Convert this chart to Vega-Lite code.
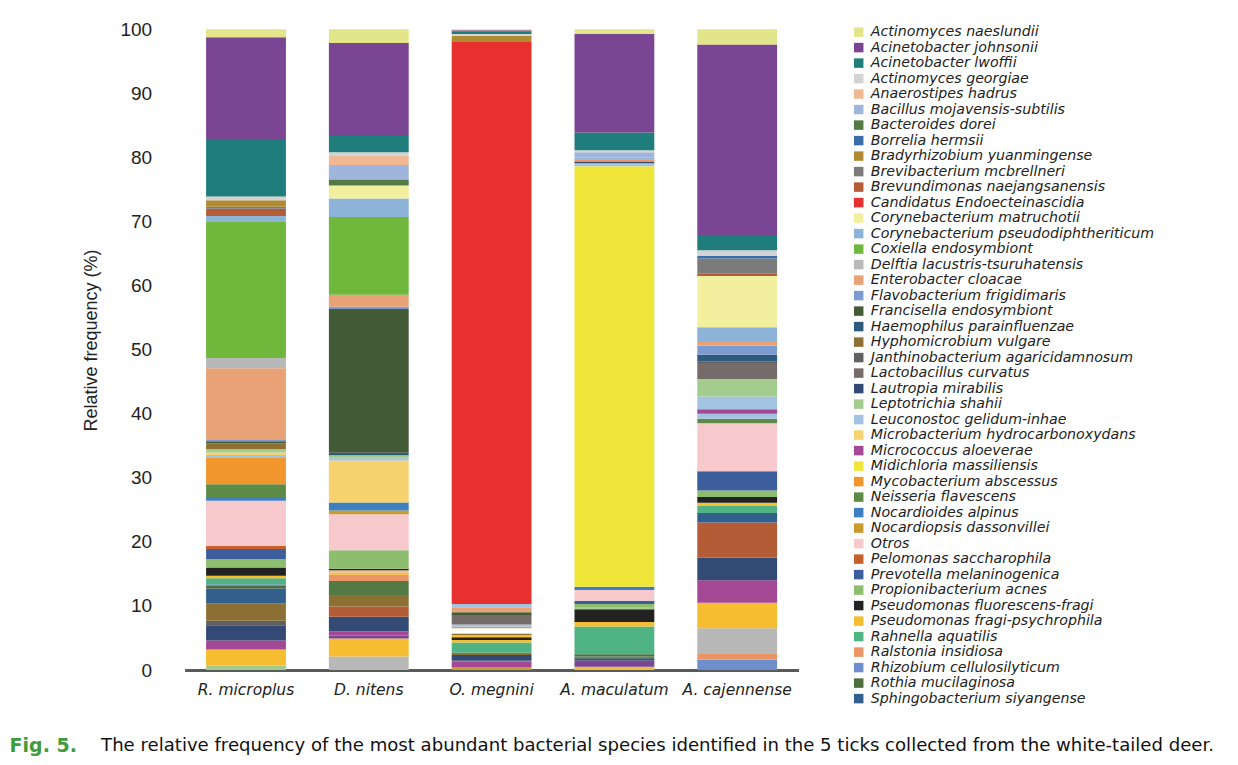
{
  "$schema": "https://vega.github.io/schema/vega-lite/v6.json",
  "autosize": {"type": "none"},
  "padding": {"left": 184.6, "top": 10, "right": 439.4, "bottom": 95},
  "width": 614,
  "height": 660,
  "background": "white",
  "config": {"view": {"stroke": null}, "font": "Liberation Sans"},
  "title": {"text": "Fig. 5.", "orient": "top", "anchor": "start", "frame": "group", "offset": 0, "baseline": "middle", "dx": -175, "dy": 755, "color": "#3f9c3c", "fontSize": 19, "fontWeight": "bold", "font": "DejaVu Sans"},
  "datasets": {
    "bars": [
      {"tick": "R. microplus", "sp": "Leptotrichia shahii", "v": 0.7},
      {"tick": "R. microplus", "sp": "Pseudomonas fragi-psychrophila", "v": 2.5},
      {"tick": "R. microplus", "sp": "Micrococcus aloeverae", "v": 1.4},
      {"tick": "R. microplus", "sp": "Lautropia mirabilis", "v": 2.4},
      {"tick": "R. microplus", "sp": "Janthinobacterium agaricidamnosum", "v": 0.7},
      {"tick": "R. microplus", "sp": "Hyphomicrobium vulgare", "v": 2.7},
      {"tick": "R. microplus", "sp": "Sphingobacterium siyangense", "v": 2.3},
      {"tick": "R. microplus", "sp": "Rothia mucilaginosa", "v": 0.4},
      {"tick": "R. microplus", "sp": "Rhizobium cellulosilyticum", "v": 0.3},
      {"tick": "R. microplus", "sp": "Rahnella aquatilis", "v": 0.9},
      {"tick": "R. microplus", "sp": "Pseudomonas fragi-psychrophila", "v": 0.4},
      {"tick": "R. microplus", "sp": "Pseudomonas fluorescens-fragi", "v": 1.3},
      {"tick": "R. microplus", "sp": "Propionibacterium acnes", "v": 1.3},
      {"tick": "R. microplus", "sp": "Prevotella melaninogenica", "v": 1.6},
      {"tick": "R. microplus", "sp": "Pelomonas saccharophila", "v": 0.5},
      {"tick": "R. microplus", "sp": "Otros", "v": 7.0},
      {"tick": "R. microplus", "sp": "Nocardioides alpinus", "v": 0.6},
      {"tick": "R. microplus", "sp": "Neisseria flavescens", "v": 2.0},
      {"tick": "R. microplus", "sp": "Mycobacterium abscessus", "v": 4.2},
      {"tick": "R. microplus", "sp": "Leuconostoc gelidum-inhae", "v": 0.35},
      {"tick": "R. microplus", "sp": "Microbacterium hydrocarbonoxydans", "v": 0.4},
      {"tick": "R. microplus", "sp": "Leptotrichia shahii", "v": 0.5},
      {"tick": "R. microplus", "sp": "Hyphomicrobium vulgare", "v": 0.9},
      {"tick": "R. microplus", "sp": "Francisella endosymbiont", "v": 0.35},
      {"tick": "R. microplus", "sp": "Flavobacterium frigidimaris", "v": 0.3},
      {"tick": "R. microplus", "sp": "Enterobacter cloacae", "v": 11.1},
      {"tick": "R. microplus", "sp": "Delftia lacustris-tsuruhatensis", "v": 1.6},
      {"tick": "R. microplus", "sp": "Coxiella endosymbiont", "v": 21.35},
      {"tick": "R. microplus", "sp": "Corynebacterium pseudodiphtheriticum", "v": 0.8},
      {"tick": "R. microplus", "sp": "Brevundimonas naejangsanensis", "v": 1.15},
      {"tick": "R. microplus", "sp": "Brevibacterium mcbrellneri", "v": 0.3},
      {"tick": "R. microplus", "sp": "Bradyrhizobium yuanmingense", "v": 1.0},
      {"tick": "R. microplus", "sp": "Actinomyces georgiae", "v": 0.6},
      {"tick": "R. microplus", "sp": "Acinetobacter lwoffii", "v": 8.8},
      {"tick": "R. microplus", "sp": "Acinetobacter johnsonii", "v": 16.05},
      {"tick": "R. microplus", "sp": "Actinomyces naeslundii", "v": 1.25},

      {"tick": "D. nitens", "sp": "Delftia lacustris-tsuruhatensis", "v": 2.1},
      {"tick": "D. nitens", "sp": "Pseudomonas fragi-psychrophila", "v": 2.8},
      {"tick": "D. nitens", "sp": "Acinetobacter johnsonii", "v": 0.5},
      {"tick": "D. nitens", "sp": "Micrococcus aloeverae", "v": 0.6},
      {"tick": "D. nitens", "sp": "Lautropia mirabilis", "v": 2.3},
      {"tick": "D. nitens", "sp": "Brevundimonas naejangsanensis", "v": 1.6},
      {"tick": "D. nitens", "sp": "Hyphomicrobium vulgare", "v": 1.8},
      {"tick": "D. nitens", "sp": "Bacteroides dorei", "v": 2.2},
      {"tick": "D. nitens", "sp": "Ralstonia insidiosa", "v": 0.95},
      {"tick": "D. nitens", "sp": "Pseudomonas fragi-psychrophila", "v": 0.35},
      {"tick": "D. nitens", "sp": "Anaerostipes hadrus", "v": 0.35},
      {"tick": "D. nitens", "sp": "Pseudomonas fluorescens-fragi", "v": 0.25},
      {"tick": "D. nitens", "sp": "Propionibacterium acnes", "v": 2.9},
      {"tick": "D. nitens", "sp": "Otros", "v": 5.6},
      {"tick": "D. nitens", "sp": "Nocardiopsis dassonvillei", "v": 0.6},
      {"tick": "D. nitens", "sp": "Nocardioides alpinus", "v": 1.25},
      {"tick": "D. nitens", "sp": "Microbacterium hydrocarbonoxydans", "v": 6.55},
      {"tick": "D. nitens", "sp": "Leuconostoc gelidum-inhae", "v": 0.35},
      {"tick": "D. nitens", "sp": "Leptotrichia shahii", "v": 0.45},
      {"tick": "D. nitens", "sp": "Haemophilus parainfluenzae", "v": 0.4},
      {"tick": "D. nitens", "sp": "Francisella endosymbiont", "v": 22.45},
      {"tick": "D. nitens", "sp": "Flavobacterium frigidimaris", "v": 0.35},
      {"tick": "D. nitens", "sp": "Enterobacter cloacae", "v": 1.85},
      {"tick": "D. nitens", "sp": "Coxiella endosymbiont", "v": 12.15},
      {"tick": "D. nitens", "sp": "Corynebacterium pseudodiphtheriticum", "v": 2.9},
      {"tick": "D. nitens", "sp": "Corynebacterium matruchotii", "v": 2.0},
      {"tick": "D. nitens", "sp": "Bacteroides dorei", "v": 0.9},
      {"tick": "D. nitens", "sp": "Brevibacterium mcbrellneri", "v": 0.1},
      {"tick": "D. nitens", "sp": "Bacillus mojavensis-subtilis", "v": 2.2},
      {"tick": "D. nitens", "sp": "Anaerostipes hadrus", "v": 1.4},
      {"tick": "D. nitens", "sp": "Actinomyces georgiae", "v": 0.6},
      {"tick": "D. nitens", "sp": "Acinetobacter lwoffii", "v": 2.7},
      {"tick": "D. nitens", "sp": "Acinetobacter johnsonii", "v": 14.35},
      {"tick": "D. nitens", "sp": "Actinomyces naeslundii", "v": 2.15},

      {"tick": "O. megnini", "sp": "Nocardiopsis dassonvillei", "v": 0.4},
      {"tick": "O. megnini", "sp": "Micrococcus aloeverae", "v": 0.9},
      {"tick": "O. megnini", "sp": "Hyphomicrobium vulgare", "v": 0.15},
      {"tick": "O. megnini", "sp": "Lautropia mirabilis", "v": 0.9},
      {"tick": "O. megnini", "sp": "Hyphomicrobium vulgare", "v": 0.35},
      {"tick": "O. megnini", "sp": "Rahnella aquatilis", "v": 1.6},
      {"tick": "O. megnini", "sp": "Pseudomonas fragi-psychrophila", "v": 0.4},
      {"tick": "O. megnini", "sp": "Pseudomonas fluorescens-fragi", "v": 0.4},
      {"tick": "O. megnini", "sp": "Pseudomonas fragi-psychrophila", "v": 0.35},
      {"tick": "O. megnini", "sp": "Hyphomicrobium vulgare", "v": 0.25},
      {"tick": "O. megnini", "sp": "gap", "v": 0.8},
      {"tick": "O. megnini", "sp": "Mycobacterium abscessus", "v": 0.25},
      {"tick": "O. megnini", "sp": "Leuconostoc gelidum-inhae", "v": 0.35},
      {"tick": "O. megnini", "sp": "Lactobacillus curvatus", "v": 1.5},
      {"tick": "O. megnini", "sp": "Francisella endosymbiont", "v": 0.4},
      {"tick": "O. megnini", "sp": "Enterobacter cloacae", "v": 0.8},
      {"tick": "O. megnini", "sp": "Leuconostoc gelidum-inhae", "v": 0.5},
      {"tick": "O. megnini", "sp": "Candidatus Endoecteinascidia", "v": 87.7},
      {"tick": "O. megnini", "sp": "Bradyrhizobium yuanmingense", "v": 1.0},
      {"tick": "O. megnini", "sp": "Actinomyces georgiae", "v": 0.25},
      {"tick": "O. megnini", "sp": "Acinetobacter lwoffii", "v": 0.35},
      {"tick": "O. megnini", "sp": "Acinetobacter johnsonii", "v": 0.25},
      {"tick": "O. megnini", "sp": "Actinomyces naeslundii", "v": 0.15},

      {"tick": "A. maculatum", "sp": "Pseudomonas fragi-psychrophila", "v": 0.5},
      {"tick": "A. maculatum", "sp": "Acinetobacter johnsonii", "v": 1.0},
      {"tick": "A. maculatum", "sp": "Lautropia mirabilis", "v": 0.35},
      {"tick": "A. maculatum", "sp": "Neisseria flavescens", "v": 0.25},
      {"tick": "A. maculatum", "sp": "Rothia mucilaginosa", "v": 0.35},
      {"tick": "A. maculatum", "sp": "Rahnella aquatilis", "v": 4.35},
      {"tick": "A. maculatum", "sp": "Pseudomonas fragi-psychrophila", "v": 0.7},
      {"tick": "A. maculatum", "sp": "Pseudomonas fluorescens-fragi", "v": 2.0},
      {"tick": "A. maculatum", "sp": "Leptotrichia shahii", "v": 0.35},
      {"tick": "A. maculatum", "sp": "Propionibacterium acnes", "v": 0.45},
      {"tick": "A. maculatum", "sp": "Prevotella melaninogenica", "v": 0.5},
      {"tick": "A. maculatum", "sp": "Otros", "v": 1.7},
      {"tick": "A. maculatum", "sp": "Nocardioides alpinus", "v": 0.5},
      {"tick": "A. maculatum", "sp": "Midichloria massiliensis", "v": 65.6},
      {"tick": "A. maculatum", "sp": "Leuconostoc gelidum-inhae", "v": 0.5},
      {"tick": "A. maculatum", "sp": "Lautropia mirabilis", "v": 0.25},
      {"tick": "A. maculatum", "sp": "Ralstonia insidiosa", "v": 0.35},
      {"tick": "A. maculatum", "sp": "Corynebacterium pseudodiphtheriticum", "v": 0.3},
      {"tick": "A. maculatum", "sp": "Bacillus mojavensis-subtilis", "v": 0.8},
      {"tick": "A. maculatum", "sp": "Actinomyces georgiae", "v": 0.3},
      {"tick": "A. maculatum", "sp": "Acinetobacter lwoffii", "v": 2.8},
      {"tick": "A. maculatum", "sp": "Acinetobacter johnsonii", "v": 15.4},
      {"tick": "A. maculatum", "sp": "Actinomyces naeslundii", "v": 0.7},

      {"tick": "A. cajennense", "sp": "Rhizobium cellulosilyticum", "v": 1.6},
      {"tick": "A. cajennense", "sp": "Ralstonia insidiosa", "v": 1.0},
      {"tick": "A. cajennense", "sp": "Delftia lacustris-tsuruhatensis", "v": 3.9},
      {"tick": "A. cajennense", "sp": "Pseudomonas fragi-psychrophila", "v": 4.0},
      {"tick": "A. cajennense", "sp": "Micrococcus aloeverae", "v": 3.5},
      {"tick": "A. cajennense", "sp": "Lautropia mirabilis", "v": 3.5},
      {"tick": "A. cajennense", "sp": "Brevundimonas naejangsanensis", "v": 5.5},
      {"tick": "A. cajennense", "sp": "Sphingobacterium siyangense", "v": 1.5},
      {"tick": "A. cajennense", "sp": "Rahnella aquatilis", "v": 1.1},
      {"tick": "A. cajennense", "sp": "Pseudomonas fragi-psychrophila", "v": 0.5},
      {"tick": "A. cajennense", "sp": "Pseudomonas fluorescens-fragi", "v": 0.9},
      {"tick": "A. cajennense", "sp": "Propionibacterium acnes", "v": 1.0},
      {"tick": "A. cajennense", "sp": "Prevotella melaninogenica", "v": 3.0},
      {"tick": "A. cajennense", "sp": "Otros", "v": 7.5},
      {"tick": "A. cajennense", "sp": "Neisseria flavescens", "v": 0.7},
      {"tick": "A. cajennense", "sp": "Leuconostoc gelidum-inhae", "v": 0.8},
      {"tick": "A. cajennense", "sp": "Micrococcus aloeverae", "v": 0.7},
      {"tick": "A. cajennense", "sp": "Leuconostoc gelidum-inhae", "v": 2.0},
      {"tick": "A. cajennense", "sp": "Leptotrichia shahii", "v": 2.7},
      {"tick": "A. cajennense", "sp": "Lactobacillus curvatus", "v": 2.5},
      {"tick": "A. cajennense", "sp": "Janthinobacterium agaricidamnosum", "v": 0.3},
      {"tick": "A. cajennense", "sp": "Haemophilus parainfluenzae", "v": 1.0},
      {"tick": "A. cajennense", "sp": "Flavobacterium frigidimaris", "v": 1.4},
      {"tick": "A. cajennense", "sp": "Enterobacter cloacae", "v": 0.6},
      {"tick": "A. cajennense", "sp": "Corynebacterium pseudodiphtheriticum", "v": 2.3},
      {"tick": "A. cajennense", "sp": "Corynebacterium matruchotii", "v": 8.0},
      {"tick": "A. cajennense", "sp": "Brevundimonas naejangsanensis", "v": 0.4},
      {"tick": "A. cajennense", "sp": "Brevibacterium mcbrellneri", "v": 2.3},
      {"tick": "A. cajennense", "sp": "Borrelia hermsii", "v": 0.4},
      {"tick": "A. cajennense", "sp": "Actinomyces georgiae", "v": 0.9},
      {"tick": "A. cajennense", "sp": "Acinetobacter lwoffii", "v": 2.4},
      {"tick": "A. cajennense", "sp": "Acinetobacter johnsonii", "v": 29.7},
      {"tick": "A. cajennense", "sp": "Actinomyces naeslundii", "v": 2.4}
    ]
  },
  "layer": [
    {
      "data": {"name": "bars"},
      "transform": [{"window": [{"op": "row_number", "as": "i"}]}],
      "mark": {"type": "bar"},
      "encoding": {
        "x": {
          "field": "tick", "type": "nominal",
          "sort": ["R. microplus", "D. nitens", "O. megnini", "A. maculatum", "A. cajennense"],
          "scale": {"paddingInner": 0.35, "paddingOuter": 0.175},
          "axis": {
            "labelAngle": 0, "labelFont": "DejaVu Sans", "labelFontSize": 15.5, "labelFontStyle": "italic", "labelColor": "#222",
            "ticks": false, "domainColor": "#5a5a5a", "domainWidth": 3, "labelPadding": 12,
            "title": "The relative frequency of the most abundant bacterial species identified in the 5 ticks collected from the white-tailed deer.",
            "titleX": -84, "titleY": 75, "titleAlign": "left", "titleAnchor": "start", "titleBaseline": "middle",
            "titleFontSize": 18.1, "titleFontWeight": "normal", "titleColor": "#111", "titleFont": "DejaVu Sans"
          }
        },
        "y": {
          "field": "v", "type": "quantitative", "stack": "zero",
          "scale": {"domain": [0, 103], "nice": false},
          "axis": {
            "values": [0, 10, 20, 30, 40, 50, 60, 70, 80, 90, 100],
            "labelFontSize": 19, "labelColor": "#222", "ticks": false, "domain": false, "grid": false,
            "labelPadding": 33, "title": "Relative frequency (%)", "titleFontSize": 18,
            "titleFontWeight": "normal", "titleColor": "#222", "titlePadding": 19
          }
        },
        "color": {
          "field": "sp", "type": "nominal",
          "scale": {
            "domain": ["Actinomyces naeslundii", "Acinetobacter johnsonii", "Acinetobacter lwoffii", "Actinomyces georgiae", "Anaerostipes hadrus", "Bacillus mojavensis-subtilis", "Bacteroides dorei", "Borrelia hermsii", "Bradyrhizobium yuanmingense", "Brevibacterium mcbrellneri", "Brevundimonas naejangsanensis", "Candidatus Endoecteinascidia", "Corynebacterium matruchotii", "Corynebacterium pseudodiphtheriticum", "Coxiella endosymbiont", "Delftia lacustris-tsuruhatensis", "Enterobacter cloacae", "Flavobacterium frigidimaris", "Francisella endosymbiont", "Haemophilus parainfluenzae", "Hyphomicrobium vulgare", "Janthinobacterium agaricidamnosum", "Lactobacillus curvatus", "Lautropia mirabilis", "Leptotrichia shahii", "Leuconostoc gelidum-inhae", "Microbacterium hydrocarbonoxydans", "Micrococcus aloeverae", "Midichloria massiliensis", "Mycobacterium abscessus", "Neisseria flavescens", "Nocardioides alpinus", "Nocardiopsis dassonvillei", "Otros", "Pelomonas saccharophila", "Prevotella melaninogenica", "Propionibacterium acnes", "Pseudomonas fluorescens-fragi", "Pseudomonas fragi-psychrophila", "Rahnella aquatilis", "Ralstonia insidiosa", "Rhizobium cellulosilyticum", "Rothia mucilaginosa", "Sphingobacterium siyangense", "gap"],
            "range": ["#e2e58a", "#7a4592", "#1f7d7c", "#d3d3d3", "#f0b994", "#a0b5dc", "#537a44", "#3a6ea8", "#b08b33", "#7b7b7b", "#b35c35", "#e8312f", "#f2f09e", "#8db3d8", "#6fb83c", "#b8b8b8", "#e8a275", "#7c9bd0", "#435c37", "#2e5a7e", "#8d7034", "#606060", "#756b68", "#334a74", "#a3cc8e", "#a2c4e2", "#f7d36f", "#a44795", "#f0e63a", "#f0962c", "#5d8b47", "#3d7fc0", "#c99a2c", "#f7c8cc", "#c8602e", "#3c5e9c", "#8dbe6e", "#222222", "#f5bd2f", "#4fb383", "#ea9566", "#6e8fcc", "#4d6e3c", "#335f8c", "#ffffff"]
          },
          "legend": {
            "orient": "none", "legendX": 667, "legendY": 15, "title": null,
            "values": ["Actinomyces naeslundii", "Acinetobacter johnsonii", "Acinetobacter lwoffii", "Actinomyces georgiae", "Anaerostipes hadrus", "Bacillus mojavensis-subtilis", "Bacteroides dorei", "Borrelia hermsii", "Bradyrhizobium yuanmingense", "Brevibacterium mcbrellneri", "Brevundimonas naejangsanensis", "Candidatus Endoecteinascidia", "Corynebacterium matruchotii", "Corynebacterium pseudodiphtheriticum", "Coxiella endosymbiont", "Delftia lacustris-tsuruhatensis", "Enterobacter cloacae", "Flavobacterium frigidimaris", "Francisella endosymbiont", "Haemophilus parainfluenzae", "Hyphomicrobium vulgare", "Janthinobacterium agaricidamnosum", "Lactobacillus curvatus", "Lautropia mirabilis", "Leptotrichia shahii", "Leuconostoc gelidum-inhae", "Microbacterium hydrocarbonoxydans", "Micrococcus aloeverae", "Midichloria massiliensis", "Mycobacterium abscessus", "Neisseria flavescens", "Nocardioides alpinus", "Nocardiopsis dassonvillei", "Otros", "Pelomonas saccharophila", "Prevotella melaninogenica", "Propionibacterium acnes", "Pseudomonas fluorescens-fragi", "Pseudomonas fragi-psychrophila", "Rahnella aquatilis", "Ralstonia insidiosa", "Rhizobium cellulosilyticum", "Rothia mucilaginosa", "Sphingobacterium siyangense"],
            "symbolLimit": 0,
            "labelFont": "DejaVu Sans", "labelFontSize": 14.2, "labelFontStyle": "italic", "labelColor": "#222", "labelLimit": 400,
            "symbolType": "square", "symbolSize": 90, "symbolStrokeWidth": 0, "symbolOpacity": 1,
            "rowPadding": 0.5, "labelOffset": 5
          }
        },
        "order": {"field": "i", "type": "quantitative"}
      }
    },
    {
      "mark": {"type": "rule", "color": "#d0d0d0", "strokeWidth": 1},
      "encoding": {"y": {"datum": 103}}
    }
  ]
}
